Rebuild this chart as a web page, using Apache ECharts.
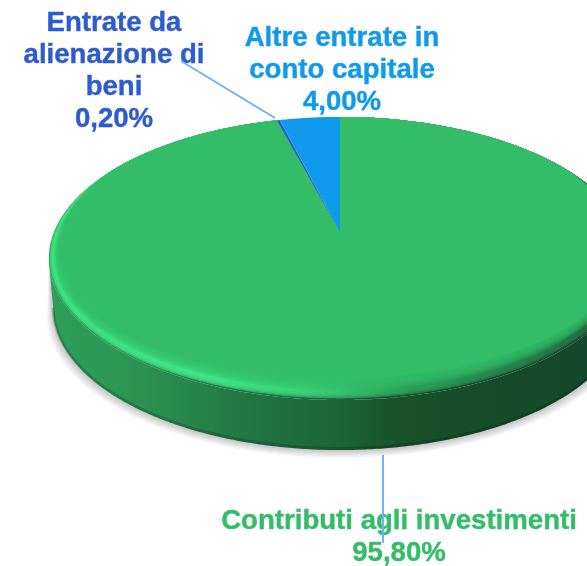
<!DOCTYPE html>
<html lang="it">

<head>
    <meta charset="UTF-8">
    <title>Entrate</title>
    <style>
        html, body { margin: 0; padding: 0; background: #fff; }
        #main { width: 587px; height: 566px; }
    </style>
</head>

<body>
    <div id="main"></div>

    <script src="https://cdn.jsdelivr.net/npm/echarts@6/dist/echarts.min.js"></script>
    <script>
        var categories = ['Contributi agli investimenti', 'Entrate da\nalienazione di\nbeni', 'Altre entrate in\nconto capitale'];
        var values = [95.8, 0.2, 4.0];
        var sliceColors = ['#33bd69', '#2d5ccf', '#0f9aec'];

        // geometria del disco in prospettiva
        var apexX = 340, apexY = 232, radX = 286, radY = 136.6, persp = 0.187, depth = 50;
        var total = values.reduce(function (a, b) { return a + b; }, 0);

        function rimPoint(deg) {
            var rad = deg * Math.PI / 180;
            var c = Math.sin(rad), s = Math.cos(rad);
            var w = 1 + persp * s;
            return { x: apexX + radX * c / w, y: apexY - radY * s / w, s: s };
        }

        // arco del bordo tra due angoli
        function arc(from, to) {
            var pts = [];
            var n = Math.max(2, Math.ceil((to - from) * 2));
            for (var i = 0; i <= n; i++) {
                pts.push(rimPoint(from + (to - from) * i / n));
            }
            return pts;
        }

        // rientro del bevel: nullo dietro, pieno sul davanti
        function inset(p, amount) {
            var t = Math.min(1, Math.max(0, (0.55 - p.s) / 0.9));
            t = t * t * (3 - 2 * t) * amount;
            return [p.x + (apexX - p.x) * t * 0.3, p.y + (apexY + 20 - p.y) * t];
        }

        function xy(p) { return [p.x, p.y]; }

        function wallGradient() {
            return new echarts.graphic.LinearGradient(49, 0, 587, 0, [
                { offset: 0, color: '#2e9f5a' },
                { offset: 0.14, color: '#2c9654' },
                { offset: 0.26, color: '#27864b' },
                { offset: 0.40, color: '#207242' },
                { offset: 0.52, color: '#1d663a' },
                { offset: 0.66, color: '#175029' },
                { offset: 1, color: '#14482a' }
            ], true);
        }

        function rimGradient() {
            return new echarts.graphic.LinearGradient(49, 0, 587, 0, [
                { offset: 0, color: '#3de27f' },
                { offset: 0.30, color: '#42e68a' },
                { offset: 0.50, color: '#38cf76' },
                { offset: 0.68, color: '#2c9e5a' },
                { offset: 1, color: '#236f42' }
            ], true);
        }

        function renderSlice(params, api) {
            var idx = params.dataIndex;
            var before = 0;
            for (var i = 0; i < idx; i++) before += values[i];
            var from = before / total * 360;
            var to = (before + api.value(0)) / total * 360;
            var pts = arc(from, to);
            var color = sliceColors[idx];
            var children = [];

            var front = pts.filter(function (p) { return p.s <= -persp; });
            if (front.length > 1) {
                var low = front.map(function (p) { return [apexX + (p.x - apexX) * 0.985, p.y + depth]; });
                var wall = front.map(xy).concat(low.slice().reverse());
                // ombra sotto il disco, a strati
                for (var j = 8; j >= 1; j--) {
                    var grown = low.map(function (p) { return [apexX + (p[0] - apexX) * (1 + 0.0028 * j), p[1] + j]; });
                    children.push({
                        type: 'polygon',
                        shape: { points: front.map(xy).concat(grown.reverse()) },
                        style: { fill: '#000', opacity: 0.028 }
                    });
                }
                children.push({ type: 'polygon', shape: { points: wall }, style: { fill: wallGradient() } });
                children.push({
                    type: 'polyline',
                    shape: { points: low.map(function (p) { return [p[0], p[1] - 1.5]; }) },
                    style: { fill: null, stroke: 'rgba(0,30,10,0.22)', lineWidth: 3 }
                });
            }

            var apex = [apexX, apexY];
            if (front.length > 1) {
                // il bordo parte scuro, sale al riflesso chiaro, poi sfuma nella faccia
                children.push({ type: 'polygon', shape: { points: [apex].concat(pts.map(xy)) }, style: { fill: wallGradient() } });
                var steps = 5;
                for (var a = 1; a <= steps; a++) {
                    children.push({
                        type: 'polygon',
                        shape: { points: [apex].concat(pts.map(function (p) { return inset(p, 0.055 * a / steps); })) },
                        style: { fill: rimGradient(), opacity: 0.6 }
                    });
                }
                var faceSteps = 10;
                for (var k = 1; k <= faceSteps; k++) {
                    children.push({
                        type: 'polygon',
                        shape: { points: [apex].concat(pts.map(function (p) { return inset(p, 0.055 + 0.09 * k / faceSteps); })) },
                        style: { fill: color, opacity: k === faceSteps ? 1 : 0.22 }
                    });
                }
            } else {
                children.push({ type: 'polygon', shape: { points: [apex].concat(pts.map(xy)) }, style: { fill: color } });
            }
            return { type: 'group', children: children };
        }

        function pct(v) { return v.toFixed(2).replace('.', ',') + '%'; }

        function labelStyle(i) {
            return {
                text: categories[i] + '\n' + pct(values[i]),
                fill: sliceColors[i],
                stroke: sliceColors[i],
                lineWidth: 0.4,
                font: 'bold 27.6px "Liberation Sans", Arial, sans-serif',
                lineHeight: 32,
                align: 'center',
                verticalAlign: 'middle'
            };
        }

        function leader(x1, y1, x2, y2) {
            return {
                type: 'line', z: 20,
                shape: { x1: x1, y1: y1, x2: x2, y2: y2 },
                style: { stroke: '#6fb1fb', lineWidth: 2 }
            };
        }

        var myChart = echarts.init(document.getElementById('main'), null, { renderer: 'canvas' });
        var option = {
            animation: false,
            backgroundColor: '#ffffff',
            series: [
                {
                    type: 'custom',
                    coordinateSystem: 'none',
                    silent: true,
                    data: values,
                    renderItem: renderSlice
                }
            ],
            graphic: [
                { type: 'text', z: 10, x: 399, y: 537, style: labelStyle(0) },
                { type: 'text', z: 10, x: 114, y: 71, style: labelStyle(1) },
                { type: 'text', z: 10, x: 342, y: 70, style: labelStyle(2) },
                leader(181, 61, 275, 118),
                leader(383, 455, 383, 543)
            ]
        };
        myChart.setOption(option);
    </script>
</body>

</html>
